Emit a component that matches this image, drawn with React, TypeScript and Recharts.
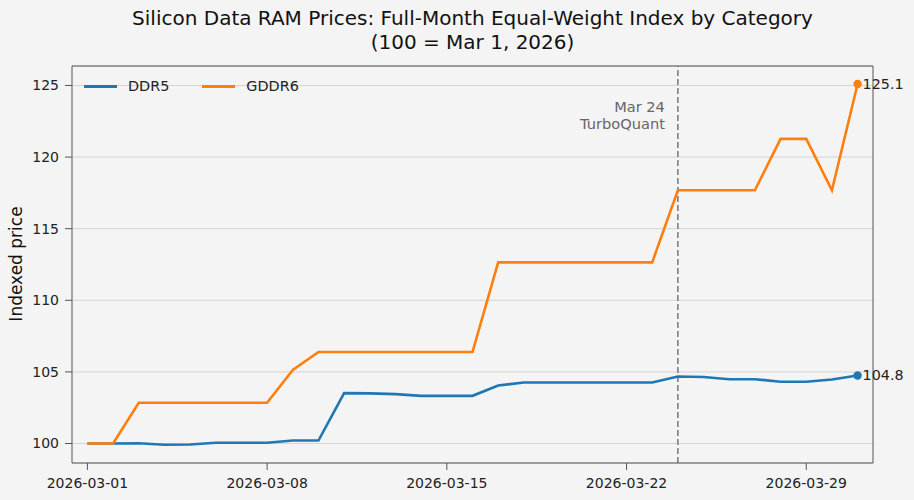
import { LineChart, Line, XAxis, YAxis, CartesianGrid, ReferenceLine } from "recharts";

const dates = [
  "2026-03-01", "2026-03-02", "2026-03-03", "2026-03-04", "2026-03-05", "2026-03-06", "2026-03-07",
  "2026-03-08", "2026-03-09", "2026-03-10", "2026-03-11", "2026-03-12", "2026-03-13", "2026-03-14",
  "2026-03-15", "2026-03-16", "2026-03-17", "2026-03-18", "2026-03-19", "2026-03-20", "2026-03-21",
  "2026-03-22", "2026-03-23", "2026-03-24", "2026-03-25", "2026-03-26", "2026-03-27", "2026-03-28",
  "2026-03-29", "2026-03-30", "2026-03-31",
];

const ddr5 = [
  100, 100, 100.02, 99.91, 99.93, 100.05, 100.05, 100.05, 100.21, 100.21,
  103.52, 103.5, 103.45, 103.33, 103.33, 103.33, 104.05, 104.26, 104.26, 104.26,
  104.26, 104.26, 104.26, 104.68, 104.65, 104.49, 104.49, 104.31, 104.31, 104.47,
  104.75,
];

const gddr6 = [
  100, 100, 102.85, 102.85, 102.85, 102.85, 102.85, 102.85, 105.14, 106.39,
  106.39, 106.39, 106.39, 106.39, 106.39, 106.39, 112.65, 112.65, 112.65, 112.65,
  112.65, 112.65, 112.65, 117.68, 117.68, 117.68, 117.68, 121.27, 121.27, 117.68,
  125.1,
];

const xTicks = [0, 7, 14, 21, 28];
const yTicks = [100, 105, 110, 115, 120, 125];
const eventIndex = 23;
const eventLines = ["Mar 24", "TurboQuant"];

const series = [
  { name: "DDR5", values: ddr5, color: "#1f77b4" },
  { name: "GDDR6", values: gddr6, color: "#ff7f0e" },
];

const chartData = dates.map((date, i) => ({
  day: i,
  date,
  DDR5: ddr5[i],
  GDDR6: gddr6[i],
}));

const xDomain = [-0.6, 30.6];
const yDomain = [98.64, 126.36];
const font = "'DejaVu Sans', sans-serif";
const bg = "#f4f4f4";
const spine = "#555555";

// only the last point gets a marker + value label
const endDot = (color: string) => (props: any) => {
  const { cx, cy, index, value } = props;
  if (index !== dates.length - 1) return <g key={index} />;
  const v = Array.isArray(value) ? value[1] : value;
  return (
    <g key={index}>
      <circle cx={cx} cy={cy} r={4.2} fill={color} />
      <text x={cx + 5} y={cy} dy="0.35em" fontSize={14.3} fill="#222" fontFamily={font}>
        {Number(v).toFixed(1)}
      </text>
    </g>
  );
};

const EventLabel = (props: any) => {
  const { viewBox } = props;
  if (!viewBox) return null;
  const x = viewBox.x - 13;
  return (
    <g>
      {eventLines.map((t, i) => (
        <text key={t} x={x} y={viewBox.y + 41 + i * 17} dy="0.35em" textAnchor="end"
          fontSize={14.6} fill="#666" fontFamily={font}>
          {t}
        </text>
      ))}
    </g>
  );
};

export default function App() {
  return (
    <div style={{ position: "absolute", left: 0, top: 0, width: 914, height: 500, background: bg, fontFamily: font }}>
      <div style={{ position: "absolute", left: 0, width: 945, top: 6, textAlign: "center", fontSize: 20, lineHeight: "24px", color: "#111" }}>
        <div>Silicon Data RAM Prices: Full-Month Equal-Weight Index by Category</div>
        <div>(100 = Mar 1, 2026)</div>
      </div>
      <div style={{ position: "absolute", left: 16, top: 264, transform: "translate(-50%, -50%) rotate(-90deg)", fontSize: 17, color: "#111", whiteSpace: "nowrap" }}>
        Indexed price
      </div>
      <LineChart width={914} height={500} data={chartData}
        margin={{ top: 66, right: 41, left: 12, bottom: 7 }}>
        <CartesianGrid vertical={false} stroke="#d4d4d4" strokeWidth={1} />
        <XAxis dataKey="day" type="number" domain={xDomain} ticks={xTicks}
          tickFormatter={(v: number) => dates[v]} height={30} tickSize={7} tickMargin={8}
          stroke={spine} tick={{ fill: "#222", fontSize: 14, fontFamily: font }} />
        <YAxis type="number" domain={yDomain} ticks={yTicks} width={60}
          tickSize={7} tickMargin={6} stroke={spine}
          tick={{ fill: "#222", fontSize: 14, fontFamily: font }} />
        <ReferenceLine y={yDomain[1]} stroke={spine} strokeWidth={1} />
        <ReferenceLine x={xDomain[1]} stroke={spine} strokeWidth={1} />
        <ReferenceLine x={eventIndex} stroke="#777" strokeWidth={1.5} strokeDasharray="6 3"
          label={<EventLabel />} />
        {series.map((s) => (
          <Line key={s.name} dataKey={s.name} stroke={s.color} strokeWidth={2.6}
            dot={endDot(s.color)} activeDot={false} isAnimationActive={false} type="linear" />
        ))}
      </LineChart>
      <div style={{ position: "absolute", left: 84, top: 76, display: "flex", fontSize: 14.4, color: "#222" }}>
        {series.map((s) => (
          <div key={s.name} style={{ display: "flex", alignItems: "center", marginRight: 33, height: 20 }}>
            <span style={{ display: "inline-block", width: 33, height: 3, background: s.color, marginRight: 11 }} />
            <span>{s.name}</span>
          </div>
        ))}
      </div>
    </div>
  );
}
